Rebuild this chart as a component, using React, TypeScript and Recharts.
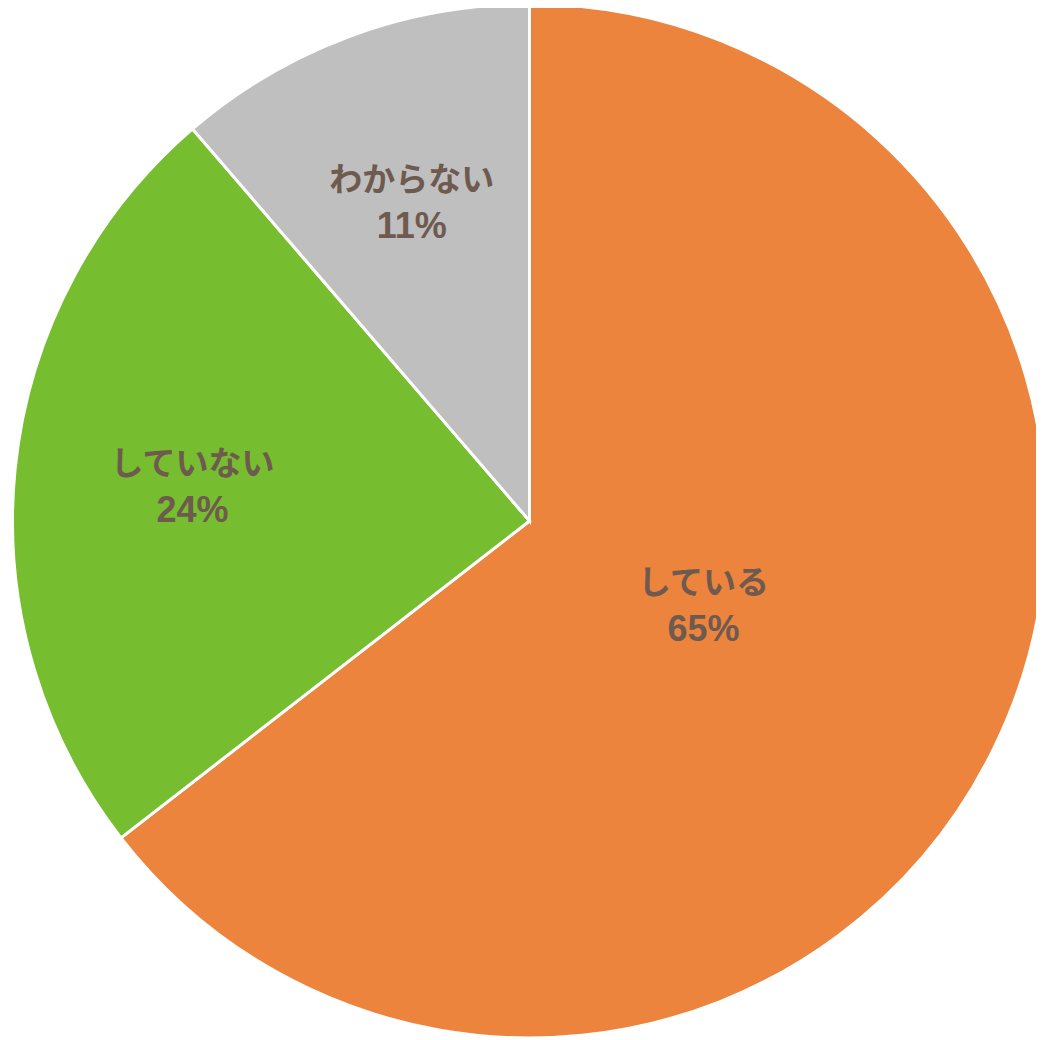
import * as React from "react";
import { PieChart, Pie, Cell } from "recharts";

const categories = ["している", "していない", "わからない"];
const shares = [64.5, 24.2, 11.3];
const percentLabels = ["65%", "24%", "11%"];
const colors = ["#ED843E", "#76BD2F", "#BFBFBF"];

const data = categories.map((name, i) => ({
  name,
  value: shares[i],
  pct: percentLabels[i],
}));

const RADIAN = Math.PI / 180;

function SliceLabel(props: any) {
  const { cx, cy, midAngle, outerRadius, percent, payload } = props;
  // big slice gets its label nearer the centre, small ones sit further out
  const r = outerRadius * (percent > 0.5 ? 0.375 : 0.655);
  const x = cx + r * Math.cos(-midAngle * RADIAN);
  const y = cy + r * Math.sin(-midAngle * RADIAN);
  return (
    <text
      x={x}
      y={y}
      fill="#6E5A4E"
      textAnchor="middle"
      style={{ fontFamily: '"Liberation Sans", "Noto Sans CJK JP", sans-serif', fontWeight: 700 }}
    >
      <tspan x={x} dy={-12} fontSize={33}>
        {payload.name}
      </tspan>
      <tspan x={x} dy={47} fontSize={36}>
        {payload.pct}
      </tspan>
    </text>
  );
}

export default function App() {
  return (
    <div style={{ width: 1036, height: 1032 }}>
      <PieChart width={1036} height={1032} margin={{ top: 0, right: 0, bottom: 0, left: 0 }}>
        <Pie
          data={data}
          dataKey="value"
          nameKey="name"
          cx={521.5}
          cy={513}
          outerRadius={517}
          startAngle={90}
          endAngle={-270}
          stroke="#ffffff"
          strokeWidth={3}
          labelLine={false}
          label={SliceLabel}
          isAnimationActive={false}
        >
          {data.map((entry, index) => (
            <Cell key={`cell-${index}`} fill={colors[index]} />
          ))}
        </Pie>
      </PieChart>
    </div>
  );
}
